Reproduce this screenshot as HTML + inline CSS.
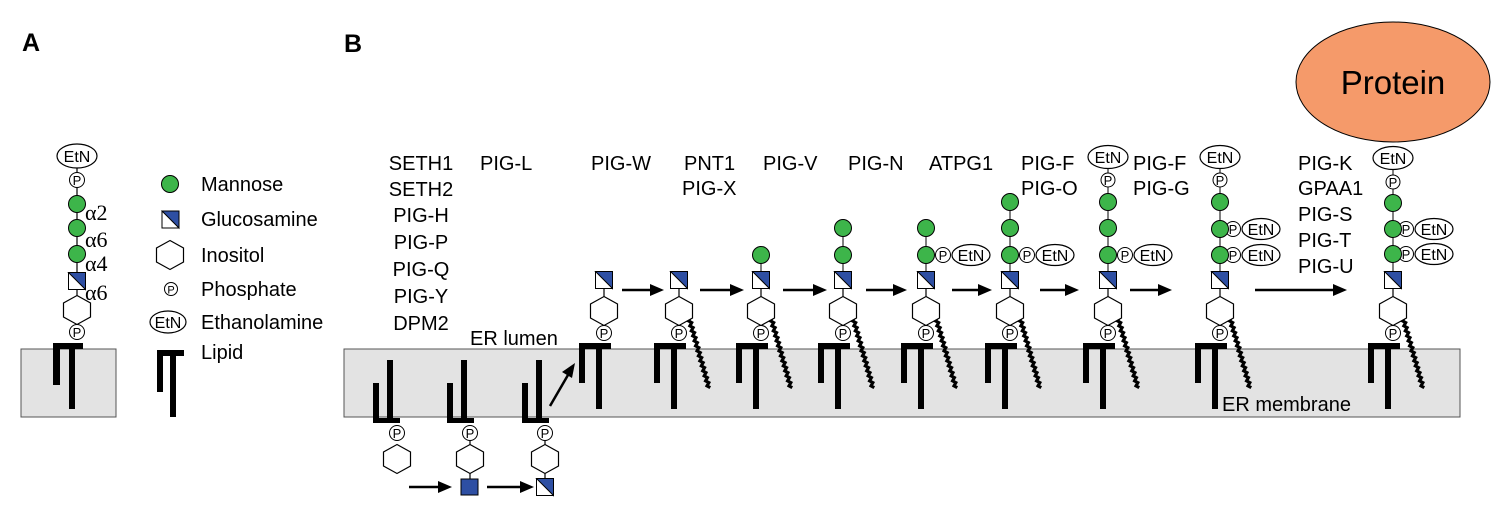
<!DOCTYPE html>
<html><head><meta charset="utf-8"><style>
html,body{margin:0;padding:0;background:#fff;}
svg{display:block;}
text{font-family:"Liberation Sans",Arial,sans-serif;fill:#000;}
.l{font-size:20px;}
.p{font-size:13px;text-anchor:middle;}
.e{font-size:16px;text-anchor:middle;}
</style></head><body>
<svg width="1512" height="517" viewBox="0 0 1512 517" xmlns="http://www.w3.org/2000/svg">
<defs>
<g id="gl"><rect x="-8.5" y="-8.5" width="17" height="17" fill="#fff" stroke="#000" stroke-width="1"/><polygon points="-8.5,-8.5 8.5,-8.5 8.5,8.5" fill="#2E4FA3" stroke="#000" stroke-width="1"/></g>
<polygon id="hx" points="0,-14.5 13.5,-7 13.5,7 0,14.5 -13.5,7 -13.5,-7" fill="#fff" stroke="#000" stroke-width="1.2"/>
<circle id="mn" r="8.5" fill="#3DB54A" stroke="#000" stroke-width="1"/>
<g id="base">
<line x1="0" y1="280" x2="0" y2="330" stroke="#000" stroke-width="1.2"/>
<use href="#gl" y="280"/>
<use href="#hx" y="311"/>
<circle cx="0" cy="333" r="7.5" fill="#fff" stroke="#000" stroke-width="1"/>
<rect x="-25" y="343" width="32" height="6" fill="#000"/>
<rect x="-25" y="343" width="6" height="40" fill="#000"/>
<rect x="-8" y="343" width="6" height="66" fill="#000"/>
</g>
<polyline id="wig" points="11.25,317.64 9.46,320.86 12.68,322.64 10.89,325.86 14.11,327.64 12.32,330.86 15.54,332.64 13.75,335.86 16.96,337.64 15.18,340.86 18.39,342.64 16.61,345.86 19.82,347.64 18.03,350.86 21.25,352.64 19.46,355.86 22.68,357.64 20.89,360.86 24.11,362.64 22.32,365.86 25.54,367.64 23.75,370.86 26.96,372.64 25.18,375.86 28.39,377.64 26.61,380.86 29.82,382.64 28.03,385.86 31.25,387.64" fill="none" stroke="#000" stroke-width="3.2"/>
<g id="pe"><circle cx="17" cy="0" r="7.5" fill="#fff" stroke="#000" stroke-width="1"/><ellipse cx="45" cy="0" rx="19" ry="10.5" fill="#fff" stroke="#000" stroke-width="1.2"/></g>
<g id="inv">
<rect x="0" y="418" width="27" height="5" fill="#000"/>
<rect x="0" y="383" width="6" height="40" fill="#000"/>
<rect x="14" y="360" width="6" height="63" fill="#000"/>
</g>
</defs>

<text x="22" y="51" style="font-size:25px;font-weight:bold">A</text>
<text x="344" y="52" style="font-size:25px;font-weight:bold">B</text>

<rect x="21" y="349" width="95" height="68" fill="#E3E3E3" stroke="#555" stroke-width="1"/>
<rect x="344" y="349" width="1116" height="68" fill="#E3E3E3" stroke="#555" stroke-width="1"/>

<!-- Panel A structure -->
<line x1="77" y1="168" x2="77" y2="330" stroke="#000" stroke-width="1.2"/>
<ellipse cx="77" cy="156" rx="20" ry="12" fill="#fff" stroke="#000" stroke-width="1.2"/>
<text x="77" y="162" class="e">EtN</text>
<circle cx="77" cy="180" r="7.5" fill="#fff" stroke="#000"/><text x="77" y="185" class="p">P</text>
<use href="#mn" x="77" y="204"/><use href="#mn" x="77" y="228"/><use href="#mn" x="77" y="254"/>
<use href="#gl" x="77" y="281"/>
<use href="#hx" x="77" y="310"/>
<circle cx="77" cy="332" r="7.5" fill="#fff" stroke="#000"/><text x="77" y="337" class="p">P</text>
<rect x="53" y="343" width="30" height="6" fill="#000"/>
<rect x="53" y="343" width="7" height="42" fill="#000"/>
<rect x="69" y="343" width="6" height="66" fill="#000"/>
<text x="85" y="220" style="font-family:'Liberation Serif',serif;font-size:22px">α2</text>
<text x="85" y="247" style="font-family:'Liberation Serif',serif;font-size:22px">α6</text>
<text x="85" y="271" style="font-family:'Liberation Serif',serif;font-size:22px">α4</text>
<text x="85" y="300" style="font-family:'Liberation Serif',serif;font-size:22px">α6</text>

<!-- Legend -->
<use href="#mn" x="170" y="184"/>
<use href="#gl" x="170.5" y="219.5"/>
<use href="#hx" x="170" y="255"/>
<circle cx="171" cy="289" r="6.5" fill="#fff" stroke="#000"/><text x="171" y="293.5" class="p" style="font-size:11px">P</text>
<ellipse cx="168" cy="322" rx="18" ry="11" fill="#fff" stroke="#000" stroke-width="1.2"/><text x="168" y="328" class="e">EtN</text>
<rect x="157" y="350" width="27" height="6" fill="#000"/>
<rect x="157" y="350" width="6" height="42" fill="#000"/>
<rect x="170" y="350" width="6" height="67" fill="#000"/>
<text x="201" y="191" class="l">Mannose</text>
<text x="201" y="226" class="l">Glucosamine</text>
<text x="201" y="262" class="l">Inositol</text>
<text x="201" y="296" class="l">Phosphate</text>
<text x="201" y="329" class="l">Ethanolamine</text>
<text x="201" y="359" class="l">Lipid</text>

<text x="421" y="170" class="l" text-anchor="middle">SETH1</text>
<text x="421" y="196" class="l" text-anchor="middle">SETH2</text>
<text x="421" y="222" class="l" text-anchor="middle">PIG-H</text>
<text x="421" y="249" class="l" text-anchor="middle">PIG-P</text>
<text x="421" y="276" class="l" text-anchor="middle">PIG-Q</text>
<text x="421" y="303" class="l" text-anchor="middle">PIG-Y</text>
<text x="421" y="330" class="l" text-anchor="middle">DPM2</text>
<text x="480" y="170" class="l">PIG-L</text>
<text x="591" y="170" class="l">PIG-W</text>
<text x="684" y="170" class="l">PNT1</text>
<text x="682" y="195" class="l">PIG-X</text>
<text x="763" y="170" class="l">PIG-V</text>
<text x="848" y="170" class="l">PIG-N</text>
<text x="929" y="170" class="l">ATPG1</text>
<text x="1021" y="170" class="l">PIG-F</text>
<text x="1021" y="195" class="l">PIG-O</text>
<text x="1133" y="170" class="l">PIG-F</text>
<text x="1133" y="195" class="l">PIG-G</text>
<text x="1298" y="170" class="l">PIG-K</text>
<text x="1298" y="195" class="l">GPAA1</text>
<text x="1298" y="221" class="l">PIG-S</text>
<text x="1298" y="247" class="l">PIG-T</text>
<text x="1298" y="273" class="l">PIG-U</text>
<text x="470" y="345" class="l">ER lumen</text>
<text x="1222" y="411" class="l">ER membrane</text>

<ellipse cx="1393" cy="82" rx="97" ry="60" fill="#F59A6A" stroke="#000" stroke-width="1"/>
<text x="1393" y="94" style="font-size:33px" text-anchor="middle">Protein</text>

<!-- Lower inverted lipids -->
<use href="#inv" x="373"/>
<circle cx="397" cy="433" r="7.5" fill="#fff" stroke="#000"/><text x="397" y="438" class="p">P</text>
<use href="#hx" x="397" y="459"/>
<use href="#inv" x="447"/>
<line x1="470" y1="440" x2="470" y2="482" stroke="#000" stroke-width="1.2"/>
<circle cx="470" cy="433" r="7.5" fill="#fff" stroke="#000"/><text x="470" y="438" class="p">P</text>
<use href="#hx" x="470" y="459"/>
<rect x="461" y="479" width="17" height="16" fill="#2E4FA3" stroke="#000"/>
<use href="#inv" x="522"/>
<line x1="545" y1="440" x2="545" y2="482" stroke="#000" stroke-width="1.2"/>
<circle cx="545" cy="433" r="7.5" fill="#fff" stroke="#000"/><text x="545" y="438" class="p">P</text>
<use href="#hx" x="545" y="459"/>
<use href="#gl" x="545" y="487"/>

<g stroke="#000" stroke-width="2.5" fill="none">
<line x1="409" y1="487" x2="440" y2="487"/>
<line x1="487" y1="487" x2="522" y2="487"/>
<line x1="550" y1="406" x2="568" y2="375"/>
<line x1="622" y1="290" x2="652" y2="290"/>
<line x1="700" y1="290" x2="732" y2="290"/>
<line x1="783" y1="290" x2="815" y2="290"/>
<line x1="866" y1="290" x2="895" y2="290"/>
<line x1="952" y1="290" x2="980" y2="290"/>
<line x1="1040" y1="290" x2="1067" y2="290"/>
<line x1="1130" y1="290" x2="1160" y2="290"/>
<line x1="1255" y1="290" x2="1335" y2="290"/>
</g>
<g fill="#000">
<polygon points="452,487 438,481 438,493"/>
<polygon points="534,487 520,481 520,493"/>
<polygon points="575,363 562,372 572,378"/>
<polygon points="664,290 650,284 650,296"/>
<polygon points="744,290 730,284 730,296"/>
<polygon points="827,290 813,284 813,296"/>
<polygon points="907,290 893,284 893,296"/>
<polygon points="992,290 978,284 978,296"/>
<polygon points="1079,290 1065,284 1065,296"/>
<polygon points="1172,290 1158,284 1158,296"/>
<polygon points="1347,290 1333,284 1333,296"/>
</g>

<use href="#base" x="604"/><text x="604" y="338" class="p">P</text>
<use href="#wig" x="679"/><use href="#base" x="679"/><text x="679" y="338" class="p">P</text>
<use href="#wig" x="761"/><line x1="761" y1="255" x2="761" y2="272" stroke="#000"/><use href="#base" x="761"/><text x="761" y="338" class="p">P</text>
<use href="#mn" x="761" y="255"/>
<use href="#wig" x="843"/><line x1="843" y1="228" x2="843" y2="272" stroke="#000"/><use href="#base" x="843"/><text x="843" y="338" class="p">P</text>
<use href="#mn" x="843" y="255"/><use href="#mn" x="843" y="228"/>
<use href="#wig" x="926"/><line x1="926" y1="228" x2="926" y2="272" stroke="#000"/><use href="#base" x="926"/><text x="926" y="338" class="p">P</text>
<use href="#pe" x="926" y="255"/><text x="943" y="260" class="p">P</text><text x="971" y="261" class="e">EtN</text>
<use href="#mn" x="926" y="255"/><use href="#mn" x="926" y="228"/>
<use href="#wig" x="1010"/><line x1="1010" y1="202" x2="1010" y2="272" stroke="#000"/><use href="#base" x="1010"/><text x="1010" y="338" class="p">P</text>
<use href="#pe" x="1010" y="255"/><text x="1027" y="260" class="p">P</text><text x="1055" y="261" class="e">EtN</text>
<use href="#mn" x="1010" y="255"/><use href="#mn" x="1010" y="228"/><use href="#mn" x="1010" y="202"/>
<use href="#wig" x="1108"/><line x1="1108" y1="160" x2="1108" y2="272" stroke="#000"/><use href="#base" x="1108"/><text x="1108" y="338" class="p">P</text>
<use href="#pe" x="1108" y="255"/><text x="1125" y="260" class="p">P</text><text x="1153" y="261" class="e">EtN</text>
<use href="#mn" x="1108" y="255"/><use href="#mn" x="1108" y="228"/><use href="#mn" x="1108" y="202"/>
<circle cx="1108" cy="180" r="7" fill="#fff" stroke="#000"/><text x="1108" y="185" class="p">P</text>
<ellipse cx="1108" cy="157" rx="20" ry="11.5" fill="#fff" stroke="#000" stroke-width="1.2"/><text x="1108" y="163" class="e">EtN</text>
<use href="#wig" x="1220"/><line x1="1220" y1="160" x2="1220" y2="272" stroke="#000"/><use href="#base" x="1220"/><text x="1220" y="338" class="p">P</text>
<use href="#pe" x="1216" y="255"/><text x="1233" y="260" class="p">P</text><text x="1261" y="261" class="e">EtN</text>
<use href="#pe" x="1216" y="229"/><text x="1233" y="234" class="p">P</text><text x="1261" y="235" class="e">EtN</text>
<use href="#mn" x="1220" y="255"/><use href="#mn" x="1220" y="229"/><use href="#mn" x="1220" y="202"/>
<circle cx="1220" cy="180" r="7" fill="#fff" stroke="#000"/><text x="1220" y="185" class="p">P</text>
<ellipse cx="1220" cy="157" rx="20" ry="11.5" fill="#fff" stroke="#000" stroke-width="1.2"/><text x="1220" y="163" class="e">EtN</text>
<use href="#wig" x="1393"/><line x1="1393" y1="160" x2="1393" y2="272" stroke="#000"/><use href="#base" x="1393"/><text x="1393" y="338" class="p">P</text>
<use href="#pe" x="1389" y="254"/><text x="1406" y="259" class="p">P</text><text x="1434" y="260" class="e">EtN</text>
<use href="#pe" x="1389" y="229"/><text x="1406" y="234" class="p">P</text><text x="1434" y="235" class="e">EtN</text>
<use href="#mn" x="1393" y="254"/><use href="#mn" x="1393" y="229"/><use href="#mn" x="1393" y="203"/>
<circle cx="1393" cy="182" r="7" fill="#fff" stroke="#000"/><text x="1393" y="187" class="p">P</text>
<ellipse cx="1393" cy="158" rx="20" ry="11.5" fill="#fff" stroke="#000" stroke-width="1.2"/><text x="1393" y="164" class="e">EtN</text>
</svg>
</body></html>
